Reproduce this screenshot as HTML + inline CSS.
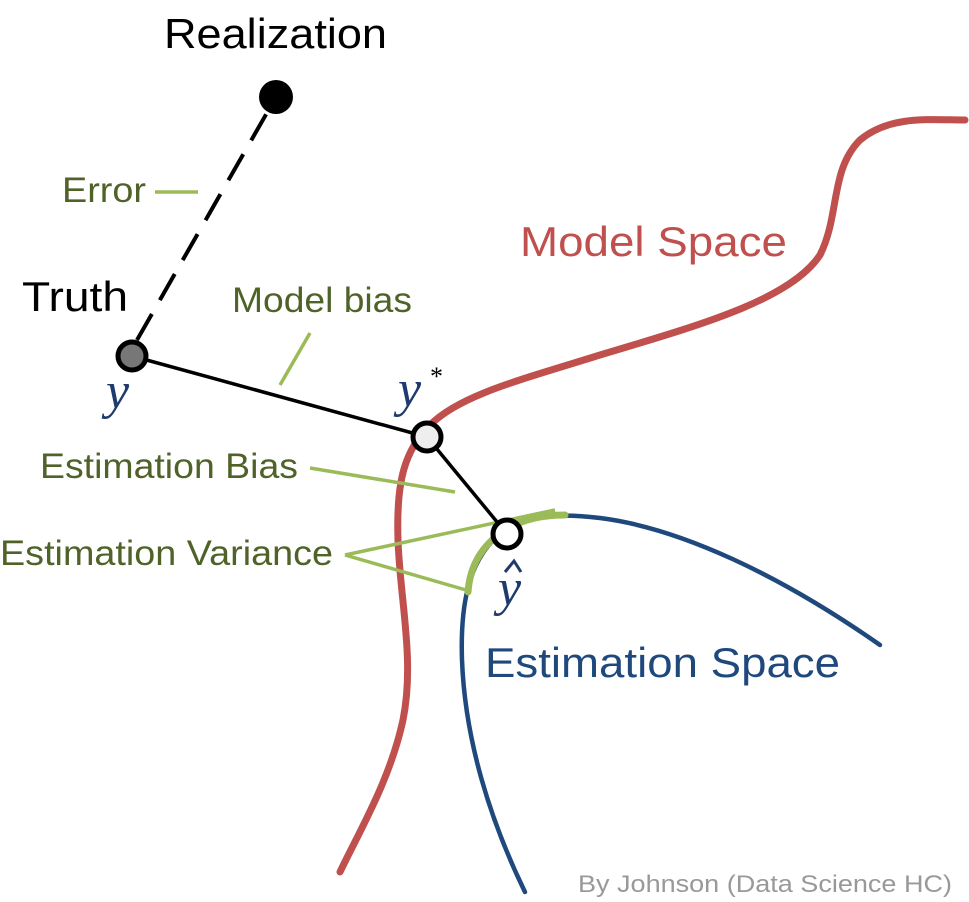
<!DOCTYPE html>
<html><head><meta charset="utf-8"><style>
html,body{margin:0;padding:0;background:#fff;}
svg{display:block;}
.s{font-family:"Liberation Sans",sans-serif;}
.g{fill:#4f6228;font-size:35px;}
.m{font-family:"Liberation Serif",serif;font-style:italic;font-size:52px;fill:#1f3a6e;}
</style></head><body>
<svg width="969" height="902" viewBox="0 0 969 902">
<path d="M340,872 C360,830 390,780 403,720 C415,660 400,600 398,540 C396,480 405,450 430,425 C460,395 520,380 600,355 C700,325 790,300 820,255 C840,215 830,170 860,140 C890,115 930,120 965,120" fill="none" stroke="#c0504d" stroke-width="7" stroke-linecap="round"/>
<path d="M525,892 C490,820 465,740 462,660 C460,600 470,555 505,530 C530,515 560,513 600,518 C680,528 780,575 880,645" fill="none" stroke="#1f497d" stroke-width="4.5" stroke-linecap="round"/>
<path d="M468,592 C470,565 482,545 505,530 C525,518 545,515 565,515" fill="none" stroke="#9bbb59" stroke-width="7" stroke-linecap="round"/>
<g stroke="#9bbb59" stroke-width="3.5">
<line x1="155" y1="192" x2="198" y2="192"/>
<line x1="310" y1="333" x2="280" y2="385"/>
<line x1="310" y1="468" x2="455" y2="492"/>
<line x1="345" y1="555" x2="555" y2="510"/>
<line x1="345" y1="555" x2="466" y2="590"/>
</g>
<line x1="137" y1="340" x2="276" y2="97" stroke="#000" stroke-width="4" stroke-dasharray="30,16"/>
<line x1="132" y1="356" x2="427" y2="437" stroke="#000" stroke-width="3.5"/>
<line x1="427" y1="437" x2="507" y2="534" stroke="#000" stroke-width="3.5"/>
<circle cx="276" cy="97" r="17" fill="#000"/>
<circle cx="132" cy="356" r="14" fill="#777" stroke="#000" stroke-width="5"/>
<circle cx="427" cy="437" r="14" fill="#eee" stroke="#000" stroke-width="5"/>
<circle cx="507" cy="534" r="14" fill="#fff" stroke="#000" stroke-width="5"/>
<text class="s" x="164" y="48" font-size="42" textLength="223" lengthAdjust="spacingAndGlyphs">Realization</text>
<text class="s" x="22" y="311" font-size="42" textLength="106" lengthAdjust="spacingAndGlyphs">Truth</text>
<text class="s g" x="62" y="202" textLength="84" lengthAdjust="spacingAndGlyphs">Error</text>
<text class="s g" x="232" y="312" textLength="180" lengthAdjust="spacingAndGlyphs">Model bias</text>
<text class="s g" x="40" y="478" textLength="258" lengthAdjust="spacingAndGlyphs">Estimation Bias</text>
<text class="s g" x="0" y="565" textLength="333" lengthAdjust="spacingAndGlyphs">Estimation Variance</text>
<text class="s" x="520" y="256" font-size="42" fill="#c0504d" textLength="267" lengthAdjust="spacingAndGlyphs">Model Space</text>
<text class="s" x="485" y="677" font-size="42" fill="#1f497d" textLength="355" lengthAdjust="spacingAndGlyphs">Estimation Space</text>
<text class="s" x="578" y="892" font-size="24" fill="#999" textLength="374" lengthAdjust="spacingAndGlyphs">By Johnson (Data Science HC)</text>
<text class="m" x="106" y="408">y</text>
<text class="m" x="398" y="406">y</text>
<text x="430" y="385" font-family="Liberation Serif,serif" font-size="26">*</text>
<text class="m" x="498" y="605">y</text>
<path d="M505,572 L514,561 L521,572" fill="none" stroke="#1f3a6e" stroke-width="3"/>
</svg>
</body></html>
